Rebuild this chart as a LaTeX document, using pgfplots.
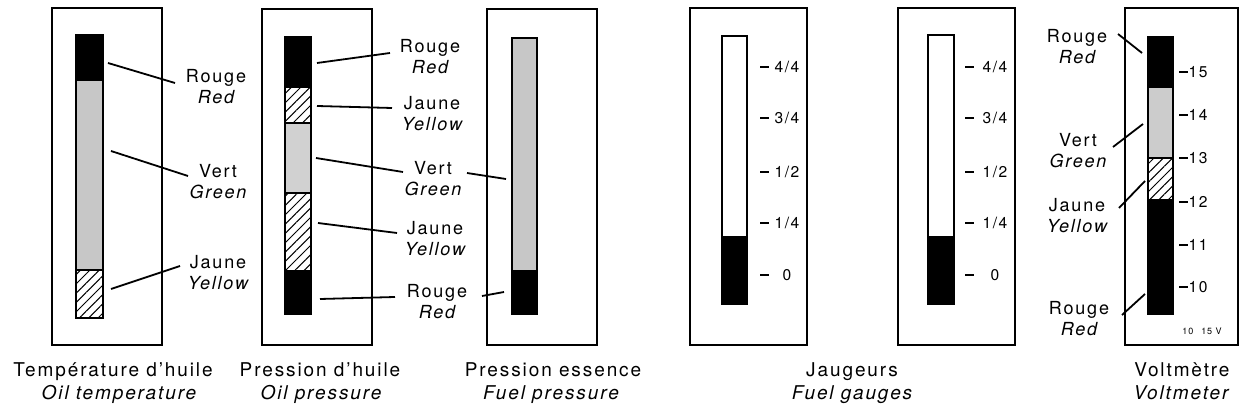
\documentclass[border=0pt]{standalone}
\usepackage{fontspec}
\setmainfont{TeX Gyre Heros}[LetterSpace=10]
\usepackage{pgfplots}
\pgfplotsset{compat=1.18}
\usetikzlibrary{patterns.meta}
\tikzset{
  lbl/.style={anchor=base, inner sep=0pt, font=\fontsize{9}{10}\selectfont},
  bot/.style={anchor=base, inner sep=0pt, font=\fontsize{9.5}{11}\selectfont},
  tkl/.style={anchor=center, inner sep=0pt, font=\fontsize{7.8}{9}\selectfont},
  frame/.style={black, line width=1.1pt},
  seg/.style={draw=black, line width=0.75pt},
  hatch/.style={pattern={Lines[angle=45, distance=3.3pt, line width=0.5pt]}},
  leader/.style={black, line width=0.9pt}}
\newcommand{\rect}[5]{\addplot[no marks, #5] coordinates {(#1,#2) (#3,#2) (#3,#4) (#1,#4)} -- cycle;}
\newcommand{\lab}[4]{%
  \node[lbl] at (axis cs:#1,#2) {#3};
  \node[lbl] at (axis cs:#1,#2+21) {\itshape #4};}
\newcommand{\tk}[4]{%
  \addplot[black, no marks, line width=0.8pt] coordinates {(#1,#3) (#1+9,#3)};
  \node[tkl] at (axis cs:#2,#3) {#4};}
\begin{document}
\begin{tikzpicture}
\begin{axis}[scale only axis, width=621.5pt, height=208pt,
  xmin=0, xmax=1243, ymin=0, ymax=416, y dir=reverse, hide axis, clip=false]
\path (axis cs:0,0) rectangle (axis cs:1243,416);
% frames
\rect{52}{8}{162}{345}{frame}
\rect{262}{9}{372}{345}{frame}
\rect{487}{9}{597}{345}{frame}
\rect{690}{8}{807}{345}{frame}
\rect{898}{8}{1015}{345}{frame}
\rect{1125}{8}{1238}{345}{frame}
% box 1
\rect{76}{35}{103}{80}{seg, fill=black}
\rect{76}{80}{103}{270}{seg, fill=black!22}
\rect{76}{270}{103}{318}{seg, hatch}
% box 2
\rect{285}{37}{311}{87}{seg, fill=black}
\rect{285}{87}{311}{123}{seg, hatch}
\rect{285}{123}{311}{193}{seg, fill=black!18}
\rect{285}{193}{311}{271}{seg, hatch}
\rect{285}{271}{311}{314}{seg, fill=black}
% box 3
\rect{512}{38}{537}{271}{seg, fill=black!22}
\rect{512}{271}{537}{314}{seg, fill=black}
% box 4
\rect{722}{36}{747}{237}{seg, fill=white}
\rect{722}{237}{747}{304}{seg, fill=black}
% box 5
\rect{928}{35}{954}{237}{seg, fill=white}
\rect{928}{237}{954}{304}{seg, fill=black}
% box 6
\rect{1148}{37}{1173}{87}{seg, fill=black}
\rect{1148}{87}{1173}{158}{seg, fill=black!20}
\rect{1148}{158}{1173}{200}{seg, hatch}
\rect{1148}{200}{1173}{314}{seg, fill=black}
% leaders
\addplot[leader, no marks] coordinates {(108,63) (175,83)};
\addplot[leader, no marks] coordinates {(111,151) (188,176)};
\addplot[leader, no marks] coordinates {(111,289) (180,266)};
\addplot[leader, no marks] coordinates {(317,63) (390,53)};
\addplot[leader, no marks] coordinates {(317,106) (392,108)};
\addplot[leader, no marks] coordinates {(316,158) (403,172)};
\addplot[leader, no marks] coordinates {(318,223) (397,233)};
\addplot[leader, no marks] coordinates {(320,299) (395,297)};
\addplot[leader, no marks] coordinates {(467,173) (506,179)};
\addplot[leader, no marks] coordinates {(482,296) (504,292)};
\addplot[leader, no marks] coordinates {(1118,34) (1142,53)};
\addplot[leader, no marks] coordinates {(1113,147) (1143,124)};
\addplot[leader, no marks] coordinates {(1119,208) (1145,181)};
\addplot[leader, no marks] coordinates {(1122,315) (1145,294)};
% labels
\lab{216}{83}{Rouge}{Red}
\lab{218}{178}{Vert}{Green}
\lab{218}{269}{Jaune}{Yellow}
\lab{430}{53}{Rouge}{Red}
\lab{432}{110}{Jaune}{Yellow}
\lab{433}{175}{Vert}{Green}
\lab{435}{235}{Jaune}{Yellow}
\lab{437}{298}{Rouge}{Red}
\lab{1077}{43}{Rouge}{Red}
\lab{1078}{147}{Vert}{Green}
\lab{1077}{212}{Jaune}{Yellow}
\lab{1079}{315}{Rouge}{Red}
% fuel gauge ticks
\tk{760}{787}{67}{4/4}
\tk{760}{787}{118}{3/4}
\tk{760}{787}{172}{1/2}
\tk{760}{787}{223}{1/4}
\tk{760}{787}{275}{0}
\tk{965}{995}{67}{4/4}
\tk{965}{995}{118}{3/4}
\tk{965}{995}{172}{1/2}
\tk{965}{995}{223}{1/4}
\tk{965}{995}{275}{0}
% voltmeter ticks
\tk{1179}{1198}{72}{15}
\tk{1179}{1198}{115}{14}
\tk{1179}{1198}{158}{13}
\tk{1179}{1198}{202}{12}
\tk{1179}{1198}{245}{11}
\tk{1179}{1198}{287}{10}
\node[anchor=base, inner sep=0pt, font=\fontsize{4.5}{5}\selectfont] at (axis cs:1202,335) {10\hspace{4pt}15 V};
% bottom captions
\node[bot] at (axis cs:113,377) {Température d’huile};
\node[bot] at (axis cs:119,400) {\itshape Oil temperature};
\node[bot] at (axis cs:320,377) {Pression d’huile};
\node[bot] at (axis cs:321,400) {\itshape Oil pressure};
\node[bot] at (axis cs:553,377) {Pression essence};
\node[bot] at (axis cs:551,400) {\itshape Fuel pressure};
\node[bot] at (axis cs:852,377) {Jaugeurs};
\node[bot] at (axis cs:852,400) {\itshape Fuel gauges};
\node[bot] at (axis cs:1182,377) {Voltmètre};
\node[bot] at (axis cs:1181,400) {\itshape Voltmeter};
\end{axis}
\end{tikzpicture}
\end{document}
